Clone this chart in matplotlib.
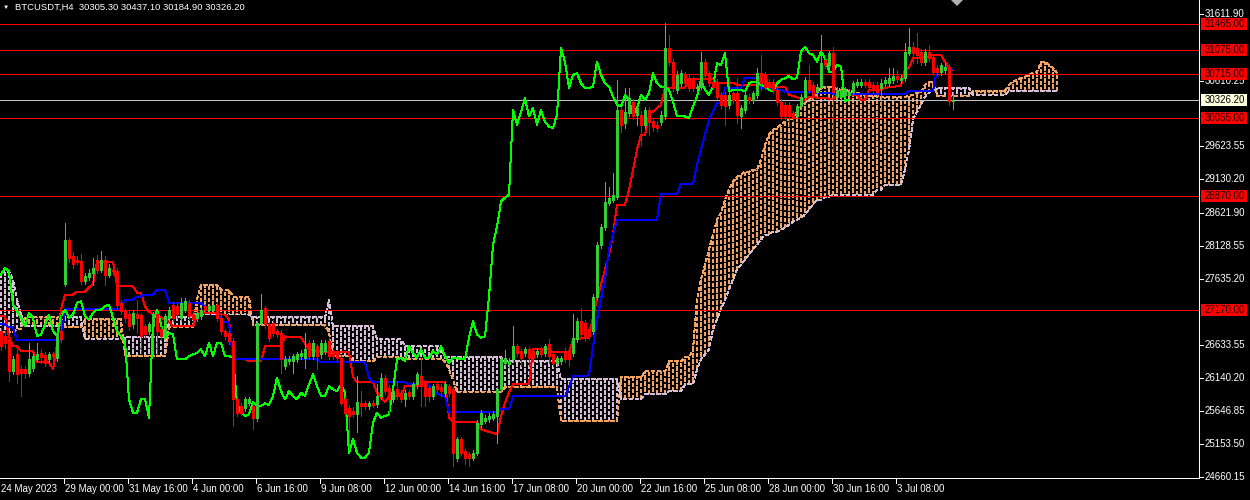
import numpy as np
import matplotlib
matplotlib.use("Agg")
import matplotlib.pyplot as plt
from matplotlib.lines import Line2D
from matplotlib.patches import Rectangle, Polygon

# ---------------- data (BTCUSDT H4) ----------------
opens = [26847, 26772, 26722, 26247, 26497, 26272, 26272, 26222, 26297, 26432,
         26512, 26482, 26422, 26497, 26447, 26847, 27562, 28222, 27972, 27922,
         27907, 27597, 27662, 27722, 27922, 27772, 27912, 27697, 27772, 27747,
         27272, 27147, 27097, 26947, 27097, 27082, 26922, 26847, 26922, 27097,
         26872, 26797, 27047, 27247, 27222, 27047, 27172, 27272, 27097, 27047,
         27072, 27222, 27172, 27172, 27247, 27047, 26847, 26822, 26697, 25822,
         25722, 25697, 25772, 25722, 25547, 26972, 27197, 26947, 26972, 26847,
         26822, 26322, 26397, 26397, 26422, 26472, 26447, 26672, 26472, 26622,
         26497, 26547, 26697, 26547, 26522, 26447, 25822, 25697, 25647, 25597,
         25762, 25762, 25722, 25772, 25747, 25872, 26147, 25997, 25822, 25972,
         25922, 25822, 25932, 25872, 26047, 26172, 26072, 25997, 25872, 26047,
         26012, 25922, 26022, 25972, 24947, 25222, 25047, 24997, 24947, 25022,
         25447, 25497, 25522, 25547, 25572, 25972, 26372, 26347, 26422, 26622,
         26547, 26522, 26572, 26547, 26497, 26572, 26522, 26647, 26497, 26372,
         26397, 26547, 26547, 26522, 26722, 26997, 26972, 26872, 26842, 27367,
         28147, 28410, 28777, 28822, 28867, 30172, 29977, 30127, 30297, 30100,
         30097, 29947, 30172, 30000, 29947, 29992, 30072, 31102, 30892, 30472,
         30572, 30697, 30647, 30622, 30497, 30522, 30897, 30722, 30597, 30597,
         30397, 30397, 30247, 30422, 30422, 30072, 30172, 30372, 30322, 30397,
         30722, 30697, 30597, 30597, 30472, 30297, 30247, 30247, 30122, 30072,
         30222, 30372, 30622, 30547, 30447, 30522, 30922, 30847, 31022, 30372,
         30372, 30397, 30397, 30447, 30547, 30547, 30597, 30597, 30547, 30547,
         30497, 30572, 30572, 30622, 30682, 30622, 30647, 31032, 31122, 31097,
         31047, 30897, 31047, 30972, 30797, 30747, 30772, 30822, 30305.3]

highs = [26900, 26850, 26760, 26480, 26560, 26330, 26320, 26672, 26520, 26672,
         26572, 26530, 26540, 26540, 26870, 27100, 28472, 28250, 28040, 27980,
         28000, 27720, 27780, 27947, 27990, 28047, 27980, 27850, 27820, 27790,
         27320, 27200, 27150, 27170, 27322, 27120, 26960, 26990, 27140, 27140,
         26920, 27110, 27210, 27290, 27260, 27347, 27347, 27310, 27130, 27160,
         27210, 27260, 27260, 27290, 27290, 27090, 26880, 26860, 26740, 25870,
         25760, 25860, 25860, 25760, 27000, 27407, 27230, 26990, 27010, 26880,
         26860, 26470, 26470, 26510, 26540, 26560, 26822, 26710, 26710, 26660,
         26710, 26710, 26740, 26580, 26560, 26490, 25860, 25730, 25700, 26172,
         25947, 25800, 25800, 25810, 26047, 26222, 26190, 26040, 25990, 26097,
         25960, 25960, 25970, 26090, 26240, 26447, 26110, 26030, 26060, 26072,
         26050, 26090, 26060, 26010, 25260, 25260, 25080, 25030, 25060, 25510,
         25660, 25590, 25610, 25640, 26010, 26460, 26570, 26440, 26922, 26660,
         26590, 26610, 26610, 26590, 26590, 26610, 26660, 26722, 26530, 26480,
         26480, 26590, 26590, 27097, 27040, 27197, 27010, 26910, 27400, 28180,
         28450, 29092, 29017, 29227, 30622, 30220, 30502, 30502, 30340, 30260,
         30150, 30220, 30220, 30050, 30000, 30150, 31477, 31297, 30940, 30750,
         30770, 30740, 30690, 30660, 30560, 31047, 30940, 30760, 30640, 30640,
         30440, 30440, 30440, 30460, 30647, 30240, 30440, 30410, 30460, 30797,
         30997, 30740, 30640, 30640, 30510, 30340, 30290, 30290, 30160, 30260,
         30410, 30660, 30847, 30590, 30560, 31297, 30960, 31060, 31122, 30510,
         30510, 30510, 30490, 30610, 30640, 30640, 30640, 30640, 30590, 30590,
         30640, 30660, 30797, 30797, 30772, 30690, 31172, 31397, 31197, 31322,
         31090, 31090, 31147, 31010, 30840, 30872, 30870, 30860, 30437.1]

lows = [26560, 26600, 26097, 26200, 26072, 25872, 26150, 26172, 26250, 26400,
        26372, 26320, 26380, 26420, 26400, 26680, 27530, 27880, 27800, 27850,
        27560, 27550, 27620, 27547, 27720, 27740, 27547, 27660, 27700, 27200,
        27100, 26990, 26870, 26900, 26822, 26522, 26750, 26800, 26472, 26497,
        26720, 26750, 27000, 27000, 27050, 27000, 27130, 27020, 26980, 27000,
        27030, 27130, 27140, 27140, 27000, 26800, 26730, 26660, 25422, 25570,
        25580, 25650, 25730, 25372, 25500, 26940, 26900, 26700, 26780, 26760,
        26222, 26280, 26360, 26222, 26380, 26430, 26297, 26430, 26430, 26272,
        26450, 26500, 26430, 26430, 26400, 25730, 25570, 25072, 25550, 25332,
        25572, 25680, 25680, 25700, 25710, 25830, 25900, 25622, 25780, 25830,
        25780, 25722, 25830, 25830, 26000, 25722, 25722, 25797, 25830, 25930,
        25872, 25880, 25880, 24822, 24900, 24980, 24847, 24822, 24910, 24980,
        25410, 25460, 25480, 25510, 25172, 25930, 26330, 26300, 26380, 26480,
        26322, 26480, 26322, 26400, 26460, 26460, 26480, 26372, 26330, 26330,
        26360, 26380, 26322, 26480, 26680, 26760, 26700, 26730, 26800, 27330,
        28100, 28370, 28740, 28790, 28830, 29842, 29900, 30080, 30030, 29950,
        29650, 29900, 29797, 29850, 29850, 29950, 30030, 30850, 30450, 30420,
        30530, 30530, 30450, 30450, 30460, 30480, 30650, 30530, 30480, 30330,
        30200, 29947, 30200, 30280, 29972, 29897, 30130, 30280, 30280, 30350,
        30472, 30480, 30480, 30430, 30250, 30030, 30030, 29922, 30000, 30030,
        30180, 30330, 30430, 30350, 30400, 30480, 30800, 30800, 29550, 30330,
        30330, 30360, 30360, 30410, 30510, 30510, 30510, 30480, 30430, 30400,
        30150, 30530, 30530, 30580, 30590, 30580, 30600, 30990, 30872, 30872,
        30850, 30847, 30900, 30700, 30700, 30700, 30720, 30247, 30184.9]

closes = [26622, 26672, 26247, 26422, 26197, 26222, 26222, 26422, 26472, 26497,
          26462, 26372, 26497, 26472, 26822, 26722, 28222, 27947, 27862, 27887,
          27597, 27682, 27722, 27797, 27772, 27922, 27697, 27797, 27747, 27247,
          27147, 27047, 26922, 27122, 27047, 26772, 26797, 26947, 27097, 26847,
          26772, 27072, 27172, 27047, 27097, 27272, 27297, 27072, 27022, 27122,
          27172, 27172, 27222, 27247, 27047, 26847, 26772, 26697, 25822, 25622,
          25622, 25822, 25822, 25547, 26972, 27172, 26947, 26747, 26822, 26797,
          26422, 26422, 26422, 26472, 26497, 26522, 26572, 26472, 26672, 26472,
          26672, 26672, 26472, 26472, 26447, 25772, 25622, 25572, 25597, 25782,
          25722, 25722, 25762, 25737, 25872, 26147, 25947, 25822, 25947, 25872,
          25822, 25922, 25872, 26047, 26197, 26022, 25872, 25872, 26022, 25972,
          25947, 26047, 25922, 25022, 25222, 25022, 24947, 24947, 25022, 25472,
          25622, 25547, 25572, 25597, 25972, 26422, 26447, 26397, 26622, 26522,
          26447, 26572, 26447, 26447, 26547, 26497, 26622, 26472, 26372, 26447,
          26447, 26422, 26422, 26747, 26997, 26797, 26747, 26772, 27367, 28147,
          28417, 28792, 28852, 28897, 30172, 29947, 30142, 30347, 30072, 30200,
          29947, 30172, 29992, 29920, 29897, 30097, 31102, 30892, 30502, 30697,
          30722, 30572, 30497, 30497, 30522, 30897, 30697, 30572, 30522, 30372,
          30247, 30222, 30397, 30322, 30097, 30197, 30397, 30322, 30422, 30722,
          30572, 30522, 30522, 30472, 30297, 30072, 30072, 30072, 30047, 30222,
          30372, 30622, 30472, 30397, 30522, 30872, 30847, 31022, 30447, 30472,
          30472, 30472, 30447, 30572, 30597, 30597, 30547, 30522, 30472, 30447,
          30572, 30622, 30647, 30682, 30632, 30647, 31047, 31122, 31022, 30997,
          30897, 31047, 30947, 30747, 30747, 30847, 30822, 30305, 30326.2]

# Ichimoku Tenkan-sen / Kijun-sen (bar index, price) vertices
tenkan_pts = [(0, 27067), (1, 27067), (2, 26767), (3, 26617), (4, 26617), (5, 26542), (8, 26542),
              (9, 26377), (12, 26377), (13, 26272), (14, 26647), (15, 27172), (16, 27397), (18, 27397),
              (19, 27442), (21, 27442), (22, 27502), (23, 27547), (24, 27892), (28, 27892), (29, 27532),
              (33, 27517), (34, 27427), (35, 27427), (36, 27217), (37, 27142), (38, 27097), (40, 27052),
              (42, 26992), (43, 26917), (48, 26917), (49, 27097), (50, 27127), (54, 27127), (55, 27097),
              (56, 27097), (57, 27022), (58, 26422), (61, 26422), (62, 26392), (65, 26392), (66, 26617),
              (70, 26617), (71, 26767), (75, 26752), (77, 26572), (80, 26542), (83, 26527), (87, 26527),
              (88, 26167), (89, 26077), (93, 26077), (94, 25927), (96, 25777), (97, 25867), (100, 25867),
              (101, 26017), (104, 26017), (105, 26077), (111, 26077), (112, 25552), (113, 25477),
              (119, 25477), (120, 25372), (124, 25297), (125, 25567), (126, 25777), (127, 25927),
              (128, 26047), (132, 26047), (133, 26572), (137, 26572), (138, 26527), (142, 26527),
              (143, 26722), (147, 26752), (148, 27067), (149, 27322), (150, 27547), (151, 27772),
              (152, 27997), (153, 28297), (154, 28747), (156, 28747), (157, 28972), (158, 29272),
              (159, 29572), (160, 29797), (161, 29797), (162, 30097), (165, 30247), (166, 30502),
              (171, 30502), (172, 30637), (178, 30637), (179, 30577), (183, 30577), (184, 30547),
              (189, 30547), (190, 30697), (191, 30697), (192, 30517), (196, 30517), (197, 30397),
              (201, 30322), (202, 30367), (208, 30337), (209, 30397), (214, 30397), (215, 30322),
              (216, 30322), (217, 30472), (220, 30472), (221, 30502), (225, 30532), (226, 30772),
              (227, 30802), (228, 30952), (232, 30967), (233, 30997), (235, 30997), (236, 30892),
              (237, 30802), (238, 30772)]

kijun_pts = [(0, 26947), (1, 26947), (2, 26902), (3, 26902), (4, 26707), (15, 26707), (16, 27187),
             (30, 27187), (31, 27322), (33, 27322), (34, 27367), (35, 27367), (36, 27397), (38, 27397),
             (39, 27472), (41, 27472), (42, 27277), (50, 27262), (51, 27217), (54, 27217), (55, 26977),
             (57, 26977), (58, 26422), (79, 26422), (80, 26377), (91, 26377), (92, 26152), (93, 26077),
             (101, 26077), (102, 26047), (107, 26047), (108, 25927), (111, 25867), (112, 25627),
             (124, 25627), (125, 25672), (127, 25672), (128, 25867), (141, 25867), (142, 26017),
             (143, 26167), (147, 26182), (148, 26617), (149, 27022), (150, 27322), (151, 27622),
             (152, 28072), (153, 28297), (154, 28522), (164, 28522), (165, 28912), (169, 28912),
             (170, 29062), (173, 29062), (174, 29347), (175, 29572), (176, 29797), (177, 30022),
             (179, 30277), (180, 30277), (181, 30502), (185, 30502), (186, 30652), (189, 30652),
             (190, 30502), (195, 30472), (196, 30442), (207, 30427), (208, 30412), (226, 30412),
             (227, 30457), (233, 30457), (234, 30772), (238, 30787)]

# Senkou spans (runs of (count, price) for flat stretches, then per-bar values)
span_a_head = [(3, 26827), (1, 26827), (2, 26872), (10, 27052), (5, 26902), (10, 27022), (11, 26467),
               (7, 26902), (1, 27322), (5, 27547), (3, 27472), (5, 27367), (19, 26932), (1, 26827),
               (5, 26467), (6, 26392), (7, 26452), (10, 26422), (1, 26392), (1, 26272), (1, 26122),
               (12, 25927), (14, 26002), (15, 25492), (6, 26152), (6, 26242), (4, 26392), (2, 26452)]
span_b_head = [(3, 27742), (1, 27622), (1, 27322), (1, 27097), (10, 26917), (5, 27052), (10, 26722),
               (11, 26752), (7, 27052), (1, 27097), (5, 27097), (3, 27097), (5, 27097), (19, 27052),
               (1, 27322), (5, 26917), (6, 26917), (7, 26722), (10, 26617), (1, 26452), (1, 26452),
               (1, 26452), (12, 26452), (14, 26392), (15, 26122), (6, 25822), (6, 25897), (4, 25942),
               (2, 26047)]
span_a_mid = [26572, 27322, 27622, 27847, 28072, 28297, 28522, 28627, 28822, 28972,
              29092, 29167, 29197, 29242, 29242, 29272, 29272, 29422, 29647, 29797,
              29872, 29902, 29947, 29992, 30022, 30052, 30142, 30217, 30277, 30322,
              30367, 30442, 30502, 30517, 30517, 30502, 30487, 30472, 30472, 30457,
              30442, 30427, 30412, 30397, 30382, 30382, 30382, 30367, 30367, 30367,
              30367, 30367, 30367, 30367, 30382, 30397, 30427, 30442, 30547, 30592,
              30592]
span_b_mid = [26047, 26272, 26422, 26497, 26572, 26872, 27022, 27172, 27322, 27472,
              27622, 27772, 27847, 27922, 27997, 28072, 28147, 28222, 28297, 28297,
              28342, 28342, 28372, 28402, 28447, 28492, 28522, 28552, 28597, 28672,
              28747, 28822, 28822, 28867, 28867, 28897, 28897, 28897, 28897, 28897,
              28897, 28897, 28897, 28897, 28897, 28897, 28972, 28972, 29047, 29047,
              29047, 29047, 29047, 29272, 29572, 30022, 30142, 30247, 30367, 30427,
              30472]
span_a_tail = [30382, 30382, 30382, 30382, 30382, 30382, 30382, 30382, 30382,
               30457, 30457, 30457, 30457, 30457, 30457, 30457, 30457, 30457,
               30547, 30592, 30622, 30652, 30667, 30697, 30727, 30742, 30892, 30892,
               30847, 30802, 30727]
span_b_tail = [30502, 30502, 30502, 30502, 30502, 30502, 30502, 30502, 30502,
               30397, 30397, 30397, 30397, 30397, 30397, 30397, 30397, 30397,
               30457, 30457, 30457, 30457, 30457, 30457, 30457, 30457, 30457, 30457,
               30457, 30457, 30457]

levels = [31465.00, 31075.00, 30715.00, 30055.00, 28870.00, 27170.00]
bid = 30326.20
price_labels = [31611.90, 30610.25, 29623.55, 29130.20, 28621.90, 28128.55,
                27635.20, 26633.55, 26140.20, 25646.85, 25153.50, 24660.15]
first_label = "24 May 2023"
time_labels = ["29 May 00:00", "31 May 16:00", "4 Jun 00:00", "6 Jun 16:00", "9 Jun 08:00",
               "12 Jun 00:00", "14 Jun 16:00", "17 Jun 08:00", "20 Jun 00:00", "22 Jun 16:00",
               "25 Jun 08:00", "28 Jun 00:00", "30 Jun 16:00", "3 Jul 08:00"]
time_label_bars = [15.75, 31.75, 47.75, 63.75, 79.75, 95.75, 111.75, 127.75, 143.75, 159.75,
                   175.75, 191.75, 207.75, 223.75]
title = "BTCUSDT,H4  30305.30 30437.10 30184.90 30326.20"
shift = 26

# ---------------- styling ----------------
BG = "black"
BULL = "#32CD32"
BEAR = "#FF0000"
TENKAN = "#FF0000"
KIJUN = "#0000FF"
CHIKOU = "#00FF00"
SANDY = "#F4A460"
THISTLE = "#D8BFD8"
LEVEL = "#FF0000"
FONT = ["Liberation Sans", "DejaVu Sans"]
FS = 7
W, H = 1250, 500
LW1 = 0.72  # 1 px


def expand(runs):
    out = []
    for cnt, v in runs:
        out.extend([v] * cnt)
    return out


span_a = np.array(expand(span_a_head) + span_a_mid + span_a_tail, float)
span_b = np.array(expand(span_b_head) + span_b_mid + span_b_tail, float)

o = np.array(opens, float)
h = np.array(highs, float)
l = np.array(lows, float)
c = np.array(closes, float)
n = len(c)
xb = np.arange(n)

fig = plt.figure(figsize=(W / 100, H / 100), dpi=100, facecolor=BG)
ax = fig.add_axes([0, 22 / H, 1199 / W, 478 / H])
ax.set_facecolor(BG)
ax.set_xlim(-0.25, 299.5)
ax.set_ylim(24640.6, 31822.0)
ax.set_xticks([])
ax.set_yticks([])
for s in ["left", "top"]:
    ax.spines[s].set_visible(False)
for s in ["right", "bottom"]:
    ax.spines[s].set_color("white")
    ax.spines[s].set_linewidth(LW1)

# cloud: dotted vertical strokes per bar between the spans (staggered like MT4)
xs = np.arange(len(span_a))
bull = span_a >= span_b
for parity in (0, 1):
    for mask, col in ((bull, SANDY), (~bull, THISTLE)):
        m = mask & (xs % 2 == parity)
        lo_ = np.minimum(span_a, span_b)[m]
        hi_ = np.maximum(span_a, span_b)[m]
        ax.vlines(xs[m], lo_, hi_, colors=col, linewidth=1.3,
                  linestyles=[(parity * 1.7, (1.7, 1.15))], antialiased=False, zorder=1)
ax.plot(xs, span_a, color=SANDY, lw=1.0, ls=(0, (2.2, 1.5)), antialiased=False, zorder=1.5)
ax.plot(xs, span_b, color=THISTLE, lw=1.0, ls=(0, (2.2, 1.5)), antialiased=False, zorder=1.5)

# levels
for v in levels:
    ax.axhline(v, color=LEVEL, lw=LW1, antialiased=False, zorder=2)
ax.axhline(bid, color="#C0C0C0", lw=LW1, antialiased=False, zorder=2)

# ichimoku lines
tx, tv = zip(*tenkan_pts)
kx, kv = zip(*kijun_pts)
ax.plot(tx, tv, color=TENKAN, lw=LW1, antialiased=False, zorder=3)
ax.plot(kx, kv, color=KIJUN, lw=LW1, antialiased=False, zorder=3)
ax.plot(xb[shift:] - shift, c[shift:], color=CHIKOU, lw=LW1, antialiased=False, zorder=3)

# candles
cols = np.where(c >= o, BULL, BEAR)
lo = np.minimum(o, c)
hi = np.maximum(np.maximum(o, c), lo + 15)
ax.vlines(xb, l, h, colors=cols, lw=LW1, antialiased=False, zorder=4)
ax.vlines(xb, lo, hi, colors=cols, lw=2.16, antialiased=False, zorder=5)

# chart-shift marker
fig.add_artist(Polygon([(951 / W, 1.0), (963 / W, 1.0), (957 / W, 1 - 6 / H)],
                       closed=True, transform=fig.transFigure, fc="#B0B0B0", ec="none"))


def fy(price):
    return ax.transData.transform((0, price))[1] / H


# price scale
for p in price_labels:
    y = fy(p)
    fig.add_artist(Line2D([1199 / W, 1203 / W], [y, y], transform=fig.transFigure,
                          color="white", lw=LW1, antialiased=False))
    fig.text(1205 / W, y, f"{p:.2f}", color="white", fontsize=FS, family=FONT,
             va="center", ha="left", zorder=5)

for v in levels:
    y = fy(v)
    fig.add_artist(Rectangle((1201 / W, y - 6 / H), 46 / W, 12 / H, transform=fig.transFigure,
                             fc="#FF0000", ec="none", zorder=8))
    fig.text(1205 / W, y, f"{v:.2f}", color="#1a0000", fontsize=FS, family=FONT,
             va="center", ha="left", zorder=9)

y = fy(bid)
fig.add_artist(Rectangle((1201 / W, y - 6 / H), 46 / W, 12 / H, transform=fig.transFigure,
                         fc="#FFFFE0", ec="none", zorder=8))
fig.text(1205 / W, y, f"{bid:.2f}", color="black", fontsize=FS, family=FONT,
         va="center", ha="left", zorder=9)

# time scale
ty = 1 - 489 / H
fig.text(1 / W, ty, first_label, color="white", fontsize=FS, family=FONT, va="center", ha="left")
for lab, b in zip(time_labels, time_label_bars):
    px = ax.transData.transform((b, 0))[0]
    fig.add_artist(Line2D([px / W, px / W], [1 - 478 / H, 1 - 483 / H], transform=fig.transFigure,
                          color="white", lw=LW1, antialiased=False))
    fig.text((px + 1) / W, ty, lab, color="white", fontsize=FS, family=FONT, va="center", ha="left")

# header
fig.text(3 / W, 1 - 7 / H, "\u25BC", color="white", fontsize=4.5, family=FONT, va="center", ha="left")
fig.text(15 / W, 1 - 7 / H, title, color="white", fontsize=6.8, family=FONT, va="center", ha="left")

fig.savefig("out.png", dpi=100, facecolor=BG)
